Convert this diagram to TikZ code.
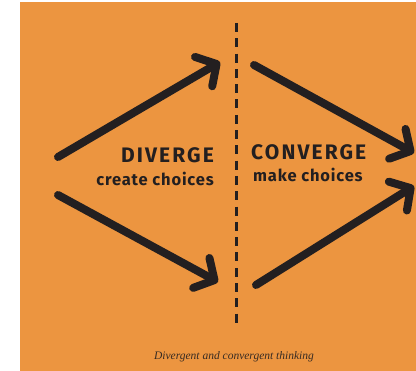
\documentclass[tikz,border=0pt]{standalone}
\usepackage{fontspec}
\setmainfont{Liberation Serif}
\newfontfamily\handfont{Fira Sans}
\usetikzlibrary{arrows.meta}
\definecolor{bg-orange}{RGB}{236,149,64}
\definecolor{ink}{RGB}{35,31,32}
\tikzset{
    big-arrow/.style={draw=ink, line width=8pt, line cap=round, line join=round,
        -{Straight Barb[length=15pt, width=34pt, line cap=round, line join=round]}},
    head-text/.style={text=ink, font=\handfont\bfseries\fontsize{21}{21}\selectfont\addfontfeatures{LetterSpace=10}, inner sep=0pt},
    sub-text/.style={text=ink, font=\handfont\bfseries\fontsize{16.5}{16.5}\selectfont\addfontfeatures{LetterSpace=5}, inner sep=0pt}
}
\begin{document}
\begin{tikzpicture}[x=1pt, y=-1pt]
        % the page and the orange card
        \useasboundingbox (0,0) rectangle (416,371);
        \fill[white] (0,0) rectangle (416,371);
        \fill[bg-orange] (20,2) rectangle (416,371);
        \clip (20,2) rectangle (416,371);
        % the dividing line
        \coordinate (line-top) at (236,23);
        \coordinate (line-bottom) at (236,323);
        \draw[ink, line width=3pt, dash pattern=on 9pt off 6.3pt] (line-top) -- (line-bottom);
        % the diverging arrows
        \coordinate (div-start-up) at (58,157);
        \coordinate (div-end-up) at (220,62);
        \coordinate (div-start-down) at (58,195);
        \coordinate (div-end-down) at (218,282);
        \draw[big-arrow] (div-start-up) -- (div-end-up);
        \draw[big-arrow] (div-start-down) -- (div-end-down);
        % the converging arrows
        \coordinate (conv-start-up) at (254,65);
        \coordinate (conv-end-up) at (414,153);
        \coordinate (conv-start-down) at (256,285);
        \coordinate (conv-end-down) at (414,186);
        \draw[big-arrow] (conv-start-up) -- (conv-end-up);
        \draw[big-arrow] (conv-start-down) -- (conv-end-down);
        % the labels
        \node[head-text, anchor=east] (diverge) at (214,155) {DIVERGE};
        \node[sub-text, anchor=east] (create-choices) at (214,179) {create choices};
        \node[head-text, anchor=west] (converge) at (251,152) {CONVERGE};
        \node[sub-text, anchor=west] (make-choices) at (253,175) {make choices};
        % the caption
        \node[text=ink!90!bg-orange, font=\itshape\fontsize{11.5}{13}\selectfont] (caption) at (234,357) {Divergent and convergent thinking};
    \end{tikzpicture}
\end{document}
